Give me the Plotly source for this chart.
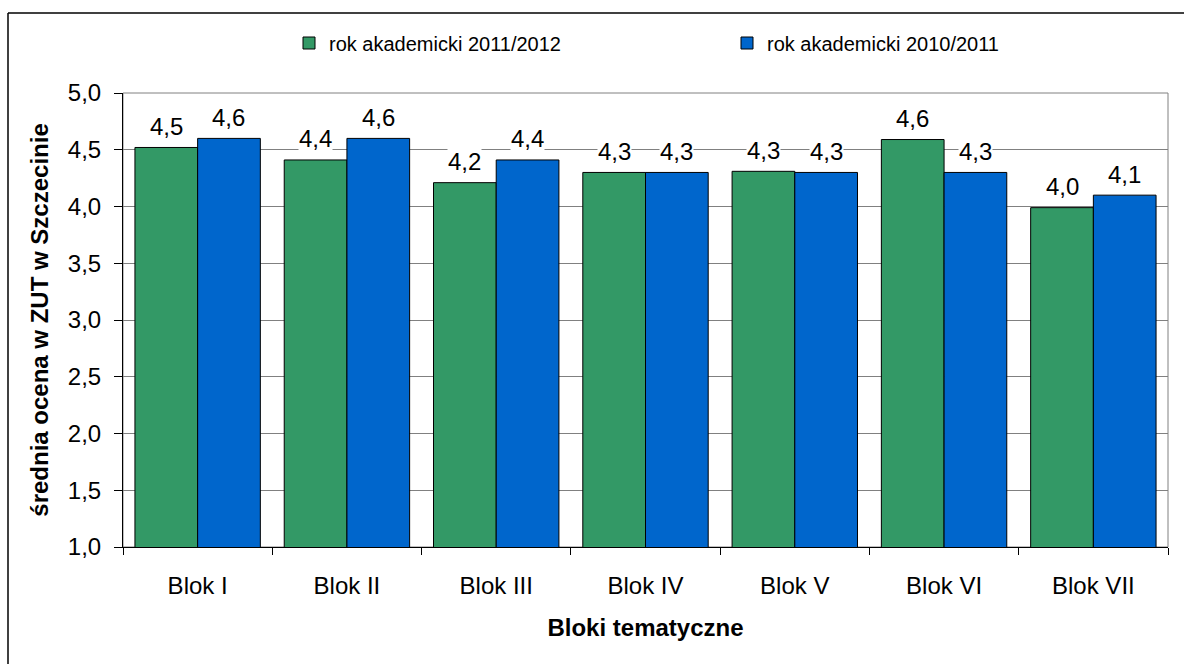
import plotly.graph_objects as go

categories = ["Blok I", "Blok II", "Blok III", "Blok IV", "Blok V", "Blok VI", "Blok VII"]
series_names = ["rok akademicki 2011/2012", "rok akademicki 2010/2011"]
values_2011_2012 = [4.52, 4.41, 4.21, 4.30, 4.31, 4.59, 3.99]
values_2010_2011 = [4.60, 4.60, 4.41, 4.30, 4.30, 4.30, 4.10]
colors = ["#339966", "#0066CC"]
y_ticks = [1.0, 1.5, 2.0, 2.5, 3.0, 3.5, 4.0, 4.5, 5.0]

FONT = "Liberation Sans, Arial, sans-serif"
W, H = 1184, 664
ML, MR, MT, MB = 123, 16, 93, 117
bargap = 0.16

fig = go.Figure()
for name, vals, col in zip(series_names, [values_2011_2012, values_2010_2011], colors):
    fig.add_trace(go.Bar(
        x=categories, y=vals, name=name,
        marker=dict(color=col, line=dict(color="#000000", width=1)),
    ))

# data labels as annotations with white background
off = (1 - bargap) / 4
annotations = []
for si, vals in enumerate([values_2011_2012, values_2010_2011]):
    for ci, v in enumerate(vals):
        annotations.append(dict(
            x=ci + (-off if si == 0 else off), y=v, xref="x", yref="y",
            text=f"{v:.1f}".replace(".", ","), showarrow=False,
            yanchor="middle", yshift=21, bgcolor="white", borderpad=0,
            font=dict(family=FONT, size=24, color="#000000"),
        ))

pw = W - ML - MR
ph = H - MT - MB
def px_x(p):
    return (p - ML) / pw
def px_y(p):
    return (H - MB - p) / ph

shapes = [
    dict(type="rect", xref="paper", yref="paper", x0=0, x1=1, y0=0, y1=1,
         line=dict(color="#808080", width=1), layer="below"),
    dict(type="line", xref="paper", yref="paper", x0=px_x(8), x1=px_x(1190),
         y0=px_y(13), y1=px_y(13), line=dict(color="#000000", width=1.5)),
    dict(type="line", xref="paper", yref="paper", x0=px_x(8), x1=px_x(8),
         y0=px_y(13), y1=px_y(670), line=dict(color="#000000", width=1.5)),
]

fig.update_layout(
    width=W, height=H,
    margin=dict(l=ML, r=MR, t=MT, b=MB, pad=0, autoexpand=False),
    paper_bgcolor="white", plot_bgcolor="white",
    separators=", ",
    barmode="group", bargap=bargap, bargroupgap=0,
    font=dict(family=FONT, size=24, color="#000000"),
    showlegend=True,
    legend=dict(
        orientation="h", x=px_x(289), xanchor="left", y=px_y(43), yanchor="middle",
        font=dict(family=FONT, size=20, color="#000000"),
        entrywidth=393, entrywidthmode="pixels",
        bgcolor="rgba(0,0,0,0)", borderwidth=0, itemclick=False,
    ),
    xaxis=dict(
        type="category", tickson="boundaries", ticks="outside", ticklen=7,
        tickcolor="#000000", showline=True, linecolor="#000000", linewidth=1,
        showgrid=False, tickfont=dict(family=FONT, size=24),
        ticklabelstandoff=17, automargin=False,
        title=dict(text="<b>Bloki tematyczne</b>", font=dict(family=FONT, size=24), standoff=21),
    ),
    yaxis=dict(
        range=[1.0, 5.0], tickvals=y_ticks, tickformat=".1f",
        ticks="outside", ticklen=8, tickcolor="#000000",
        showline=True, linecolor="#000000", linewidth=1,
        showgrid=True, gridcolor="#808080", gridwidth=1, zeroline=False,
        tickfont=dict(family=FONT, size=24), ticklabelstandoff=8, automargin=False,
        title=dict(text="<b>średnia ocena w ZUT w Szczecinie</b>", font=dict(family=FONT, size=24), standoff=12),
    ),
    annotations=annotations,
    shapes=shapes,
)

fig.write_html("out.html", config={"displayModeBar": False},
               post_script="document.body.style.margin='0';document.body.style.overflow='hidden';")
